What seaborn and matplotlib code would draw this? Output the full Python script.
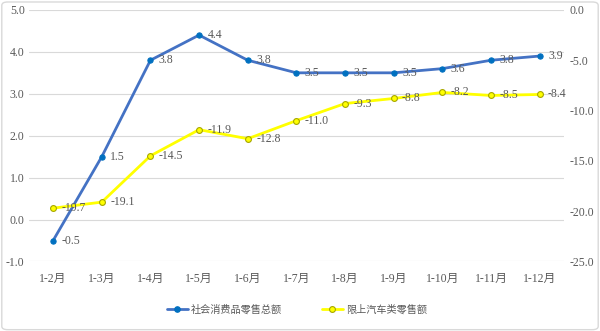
import matplotlib
matplotlib.use("Agg")
import matplotlib.pyplot as plt
from matplotlib.patches import FancyBboxPatch
from matplotlib.lines import Line2D
import seaborn as sns
import pandas as pd

months = ["1-2月", "1-3月", "1-4月", "1-5月", "1-6月", "1-7月",
          "1-8月", "1-9月", "1-10月", "1-11月", "1-12月"]
retail_total = [-0.5, 1.5, 3.8, 4.4, 3.8, 3.5, 3.5, 3.5, 3.6, 3.8, 3.9]
auto_retail = [-19.7, -19.1, -14.5, -11.9, -12.8, -11.0, -9.3, -8.8, -8.2, -8.5, -8.4]
name_total = "社会消费品零售总额"
name_auto = "限上汽车类零售额"

sns.set_theme(style="white")
plt.rcParams["font.family"] = ["Liberation Serif", "Noto Sans CJK SC", "DejaVu Sans"]

df = pd.DataFrame({"x": range(len(months)), "total": retail_total, "auto": auto_retail})

fig = plt.figure(figsize=(6.0, 3.31), dpi=100)
ax = fig.add_axes([0.048, 0.21, 0.892, 0.76])
ax2 = ax.twinx()

blue = "#4472C4"
blue_mk = "#0070C0"
yellow = "#FFFF00"
txt = "#595959"
fs = 8.5

sns.lineplot(data=df, x="x", y="total", ax=ax, color=blue, linewidth=2,
             marker="o", markersize=3.8, markerfacecolor=blue_mk,
             markeredgecolor=blue_mk, zorder=3)
sns.lineplot(data=df, x="x", y="auto", ax=ax2, color=yellow, linewidth=2,
             marker="o", markersize=4.2, markerfacecolor=yellow,
             markeredgecolor="#A6A600", markeredgewidth=0.8, zorder=3)

ax.set_xlim(-0.5, len(months) - 0.5)
ax.set_ylim(-1.0, 5.0)
ax.set_yticks([-1, 0, 1, 2, 3, 4, 5])
ax.set_yticklabels([f"{v:.1f}" for v in [-1, 0, 1, 2, 3, 4, 5]])
ax2.set_ylim(-25, 0)
ax2.set_yticks([-25, -20, -15, -10, -5, 0])
ax2.set_yticklabels([f"{v:.1f}" for v in [-25, -20, -15, -10, -5, 0]])
ax.set_xticks(range(len(months)))
ax.set_xticklabels(months)

for a in (ax, ax2):
    a.set_xlabel("")
    a.set_ylabel("")
    for s in a.spines.values():
        s.set_visible(False)
    a.tick_params(axis="both", length=0, labelsize=fs, colors=txt, pad=4)
ax.tick_params(axis="y", pad=3)
ax.tick_params(axis="x", pad=8)
ax.grid(axis="y", color="#D9D9D9", linewidth=0.8)
ax.set_axisbelow(True)

for i, v in enumerate(retail_total):
    ax.annotate(f"{v:.1f}", (i, v), xytext=(6, 0), textcoords="offset points",
                ha="left", va="center", fontsize=fs, color=txt, zorder=4)
for i, v in enumerate(auto_retail):
    ax2.annotate(f"{v:.1f}", (i, v), xytext=(6, 0), textcoords="offset points",
                 ha="left", va="center", fontsize=fs, color=txt, zorder=4)

handles = [
    Line2D([], [], color=blue, linewidth=2, marker="o", markersize=3.8,
           markerfacecolor=blue_mk, markeredgecolor=blue_mk),
    Line2D([], [], color=yellow, linewidth=2, marker="o", markersize=4.2,
           markerfacecolor=yellow, markeredgecolor="#A6A600", markeredgewidth=0.8),
]
fig.legend(handles, [name_total, name_auto], loc="center", bbox_to_anchor=(0.495, 0.065),
           ncol=2, frameon=False, fontsize=7.3, labelcolor=txt, columnspacing=4.0,
           handlelength=2.0, handletextpad=0.3)

fig.patches.append(FancyBboxPatch((0.003, 0.004), 0.994, 0.99, boxstyle="round,pad=0,rounding_size=0.01",
                                  transform=fig.transFigure, facecolor="none",
                                  edgecolor="#D9D9D9", linewidth=1))

fig.savefig("out.png", dpi=100)
